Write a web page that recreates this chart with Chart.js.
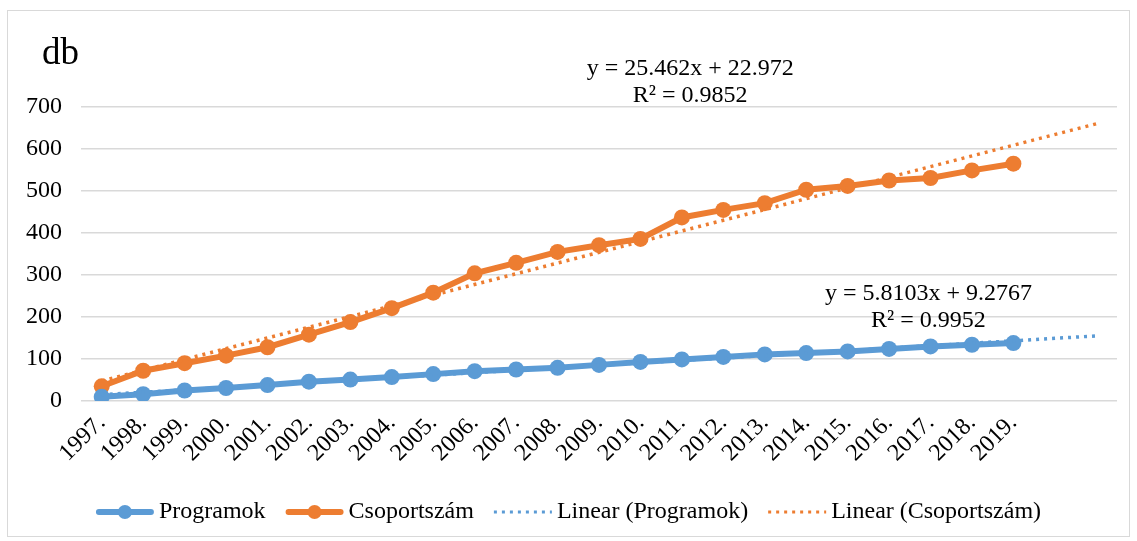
<!DOCTYPE html>
<html>
<head>
<meta charset="utf-8">
<script src="https://cdn.jsdelivr.net/npm/chart.js@4"></script>
<style>
  html, body { margin: 0; padding: 0; background: #fff; }
  #wrap { width: 1137px; height: 541px; position: relative; }
</style>
</head>
<body>
<div id="wrap"><canvas id="chart" width="1137" height="541"></canvas></div>
<script>
"use strict";

// evek (az utolso ket hely ures, a trendvonal oda nyulik)
var years = ["1997.", "1998.", "1999.", "2000.", "2001.", "2002.", "2003.", "2004.", "2005.", "2006.",
  "2007.", "2008.", "2009.", "2010.", "2011.", "2012.", "2013.", "2014.", "2015.", "2016.",
  "2017.", "2018.", "2019.", "", ""];

var programok = [10, 16, 25, 31, 38, 46, 51, 57, 64, 71, 75, 79, 86, 93, 99, 105, 111, 114, 118, 124, 130, 134, 138];
var csoportszam = [35, 72, 90, 108, 128, 158, 188, 221, 258, 304, 329, 355, 371, 386, 437, 455, 471, 503, 512, 525, 531, 549, 565];

// trendvonalak vegpontjai (kozte ures)
var trendProgramok = [15, null, null, null, null, null, null, null, null, null, null, null, null, null, null, null, null, null, null, null, null, null, null, null, 155];
var trendCsoport = [48, null, null, null, null, null, null, null, null, null, null, null, null, null, null, null, null, null, null, null, null, null, null, null, 660];

var yTicks = [0, 100, 200, 300, 400, 500, 600, 700];

var kek = "#5b9bd5";
var narancs = "#ed7d31";
var betu = "'Liberation Serif', 'Times New Roman', serif";

// keret, "db" felirat, egyenletek, jelmagyarazat
var rajzPlugin = {
  id: "rajz",
  afterDraw: function (chart) {
    var ctx = chart.ctx;
    var x = chart.scales.x;
    var y = chart.scales.y;
    ctx.save();

    ctx.strokeStyle = "#d9d9d9";
    ctx.lineWidth = 1;
    ctx.strokeRect(7.5, 10.5, 1122, 526);

    ctx.fillStyle = "#000";
    ctx.font = "37px " + betu;
    ctx.textAlign = "left";
    ctx.textBaseline = "middle";
    ctx.fillText("db", 42, 54);

    ctx.font = "24px " + betu;
    ctx.textAlign = "center";
    ctx.fillText("y = 25.462x + 22.972", x.getPixelForValue(14.2), y.getPixelForValue(792));
    ctx.fillText("R\u00b2 = 0.9852", x.getPixelForValue(14.2), y.getPixelForValue(726));
    ctx.fillText("y = 5.8103x + 9.2767", x.getPixelForValue(19.95), y.getPixelForValue(256));
    ctx.fillText("R\u00b2 = 0.9952", x.getPixelForValue(19.95), y.getPixelForValue(191));

    // jelmagyarazat
    var elemek = [
      { text: "Programok", color: kek, pont: true },
      { text: "Csoportsz\u00e1m", color: narancs, pont: true },
      { text: "Linear (Programok)", color: kek, pont: false },
      { text: "Linear (Csoportsz\u00e1m)", color: narancs, pont: false }
    ];
    var jelW = 58, res = 5, koz = 20;
    var ossz = 0;
    elemek.forEach(function (e) {
      e.w = ctx.measureText(e.text).width;
      ossz += jelW + res + e.w;
    });
    ossz += koz * (elemek.length - 1);
    var lx = 1137 / 2 - ossz / 2;
    var ly = 512;
    ctx.textAlign = "left";
    elemek.forEach(function (e) {
      ctx.strokeStyle = e.color;
      ctx.fillStyle = e.color;
      if (e.pont) {
        ctx.lineWidth = 6;
        ctx.lineCap = "round";
        ctx.setLineDash([]);
        ctx.beginPath();
        ctx.moveTo(lx + 3, ly);
        ctx.lineTo(lx + jelW - 3, ly);
        ctx.stroke();
        ctx.beginPath();
        ctx.arc(lx + jelW / 2, ly, 7, 0, Math.PI * 2);
        ctx.fill();
      } else {
        ctx.lineWidth = 3;
        ctx.lineCap = "butt";
        ctx.setLineDash([3, 5]);
        ctx.beginPath();
        ctx.moveTo(lx, ly);
        ctx.lineTo(lx + jelW, ly);
        ctx.stroke();
        ctx.setLineDash([]);
      }
      ctx.fillStyle = "#000";
      ctx.fillText(e.text, lx + jelW + res, ly);
      lx += jelW + res + e.w + koz;
    });

    ctx.restore();
  }
};

var ctx = document.getElementById("chart").getContext("2d");
var chart = new Chart(ctx, {
  type: "line",
  data: {
    labels: years,
    datasets: [
      {
        label: "Linear (Programok)",
        data: trendProgramok,
        borderColor: kek,
        borderWidth: 3.5,
        borderDash: [3, 5],
        pointRadius: 0,
        spanGaps: true,
        fill: false,
        order: 1
      },
      {
        label: "Linear (Csoportsz\u00e1m)",
        data: trendCsoport,
        borderColor: narancs,
        borderWidth: 3.5,
        borderDash: [3, 5],
        pointRadius: 0,
        spanGaps: true,
        fill: false,
        order: 1
      },
      {
        label: "Programok",
        data: programok,
        borderColor: kek,
        backgroundColor: kek,
        borderWidth: 6,
        pointRadius: 8,
        pointBorderWidth: 0,
        pointBackgroundColor: kek,
        tension: 0,
        fill: false,
        order: 2
      },
      {
        label: "Csoportsz\u00e1m",
        data: csoportszam,
        borderColor: narancs,
        backgroundColor: narancs,
        borderWidth: 6,
        pointRadius: 8,
        pointBorderWidth: 0,
        pointBackgroundColor: narancs,
        tension: 0,
        fill: false,
        order: 2
      }
    ]
  },
  options: {
    responsive: false,
    animation: false,
    layout: { padding: { top: 107, left: 0, right: 20, bottom: 0 } },
    plugins: {
      legend: { display: false },
      tooltip: { enabled: false }
    },
    scales: {
      x: {
        offset: true,
        grid: { display: false },
        border: { display: false },
        ticks: {
          color: "#000",
          font: { family: betu, size: 24 },
          maxRotation: 45,
          minRotation: 45,
          autoSkip: false,
          padding: 0
        },
        afterFit: function (scale) { scale.height = 140; }
      },
      y: {
        min: 0,
        max: 700,
        afterBuildTicks: function (scale) {
          scale.ticks = yTicks.map(function (v) { return { value: v }; });
        },
        grid: { color: "#d9d9d9", lineWidth: 1.5, drawTicks: false },
        border: { display: false },
        ticks: {
          color: "#000",
          font: { family: betu, size: 24 },
          padding: 19
        },
        afterFit: function (scale) { scale.width = 81; }
      }
    }
  },
  plugins: [rajzPlugin]
});
</script>
</body>
</html>
